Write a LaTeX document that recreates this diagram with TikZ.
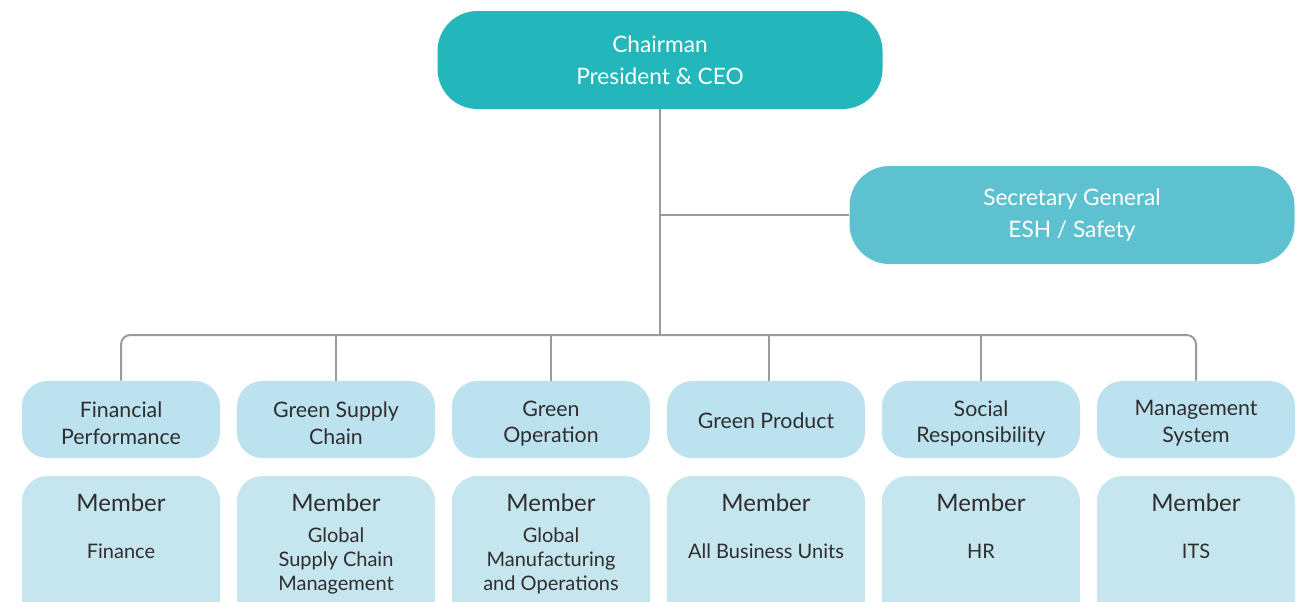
\documentclass[tikz,border=0pt]{standalone}
\usepackage{fontspec}
\setmainfont{Lato}
\definecolor{chiefteal}{HTML}{23B6BA}
\definecolor{secteal}{HTML}{5EC1CF}
\definecolor{headblue}{HTML}{BCE2EF}
\definecolor{memblue}{HTML}{C5E5EF}
\definecolor{linkgray}{HTML}{9B9B9B}
\definecolor{inkdark}{HTML}{2E2E2E}

\begin{document}
\begin{tikzpicture}[x=0.75pt,y=-0.75pt,
  chief/.style={fill=chiefteal,rounded corners=30pt,minimum width=333.75pt,minimum height=73.5pt,
    text=white,align=center,font=\fontsize{17}{24}\selectfont},
  secbox/.style={chief,fill=secteal},
  headbox/.style={fill=headblue,rounded corners=19pt,minimum width=148.5pt,minimum height=57.75pt},
  headtext/.style={text=inkdark,align=center,font=\fontsize{16}{20}\selectfont},
  membox/.style={fill=memblue,rounded corners=19pt,minimum width=148.5pt,minimum height=112.5pt},
  memtitle/.style={text=inkdark,font=\fontsize{18}{22}\selectfont},
  memtext/.style={text=inkdark,align=center,font=\fontsize{15}{18}\selectfont},
  link/.style={draw=linkgray,line width=1.5pt}]
\useasboundingbox (0,0) rectangle (1303,601);
\clip (0,0) rectangle (1303,601);

% top of the tree
\node[chief] (chair) at (660,60) {Chairman\\President \& CEO};
\node[secbox] (sec) at (1072,215) {Secretary General\\ESH / Safety};

% committees
\node[headbox] (fin) at (121,419.5) {};
\node[headtext] (fint) at (121,423.5) {Financial\\Performance};
\node[headbox] (gsc) at (336,419.5) {};
\node[headtext] (gsct) at (336,423.5) {Green Supply\\Chain};
\node[headbox] (gop) at (551,419.5) {};
\node[headtext] (gopt) at (551,423.5) {Green\\Operation};
\node[headbox] (gpr) at (766,419.5) {};
\node[headtext] (gprt) at (766,420.5) {Green Product};
\node[headbox] (soc) at (981,419.5) {};
\node[headtext] (soct) at (981,423.5) {Social\\Responsibility};
\node[headbox] (mgt) at (1196,419.5) {};
\node[headtext] (mgtt) at (1196,423.5) {Management\\System};

% members
\node[membox] (finm) at (121,551) {};
\node[memtitle] (finmt) at (121,503) {Member};
\node[memtext] (finms) at (121,551) {Finance};
\node[membox] (gscm) at (336,551) {};
\node[memtitle] (gscmt) at (336,503) {Member};
\node[memtext] (gscms) at (336,561) {Global\\Supply Chain\\Management};
\node[membox] (gopm) at (551,551) {};
\node[memtitle] (gopmt) at (551,503) {Member};
\node[memtext] (gopms) at (551,561) {Global\\Manufacturing\\and Operations};
\node[membox] (gprm) at (766,551) {};
\node[memtitle] (gprmt) at (766,503) {Member};
\node[memtext] (gprms) at (766,551) {All Business Units};
\node[membox] (socm) at (981,551) {};
\node[memtitle] (socmt) at (981,503) {Member};
\node[memtext] (socms) at (981,551) {HR};
\node[membox] (mgtm) at (1196,551) {};
\node[memtitle] (mgtmt) at (1196,503) {Member};
\node[memtext] (mgtms) at (1196,551) {ITS};

% connectors
\coordinate (bus) at (chair.south |- 0,335);
\coordinate (sectap) at (chair.south |- sec.west);
\draw[link] (chair.south) -- (bus);
\draw[link] (sectap) -- (sec.west);
\draw[link,rounded corners=7pt] (fin.north) |- (bus) -| (mgt.north);
\draw[link] (gsc.north) -- (gsc.north |- bus);
\draw[link] (gop.north) -- (gop.north |- bus);
\draw[link] ([xshift=2.25pt]gpr.north) -- ([xshift=2.25pt]gpr.north |- bus);
\draw[link] (soc.north) -- (soc.north |- bus);
\end{tikzpicture}
\end{document}
